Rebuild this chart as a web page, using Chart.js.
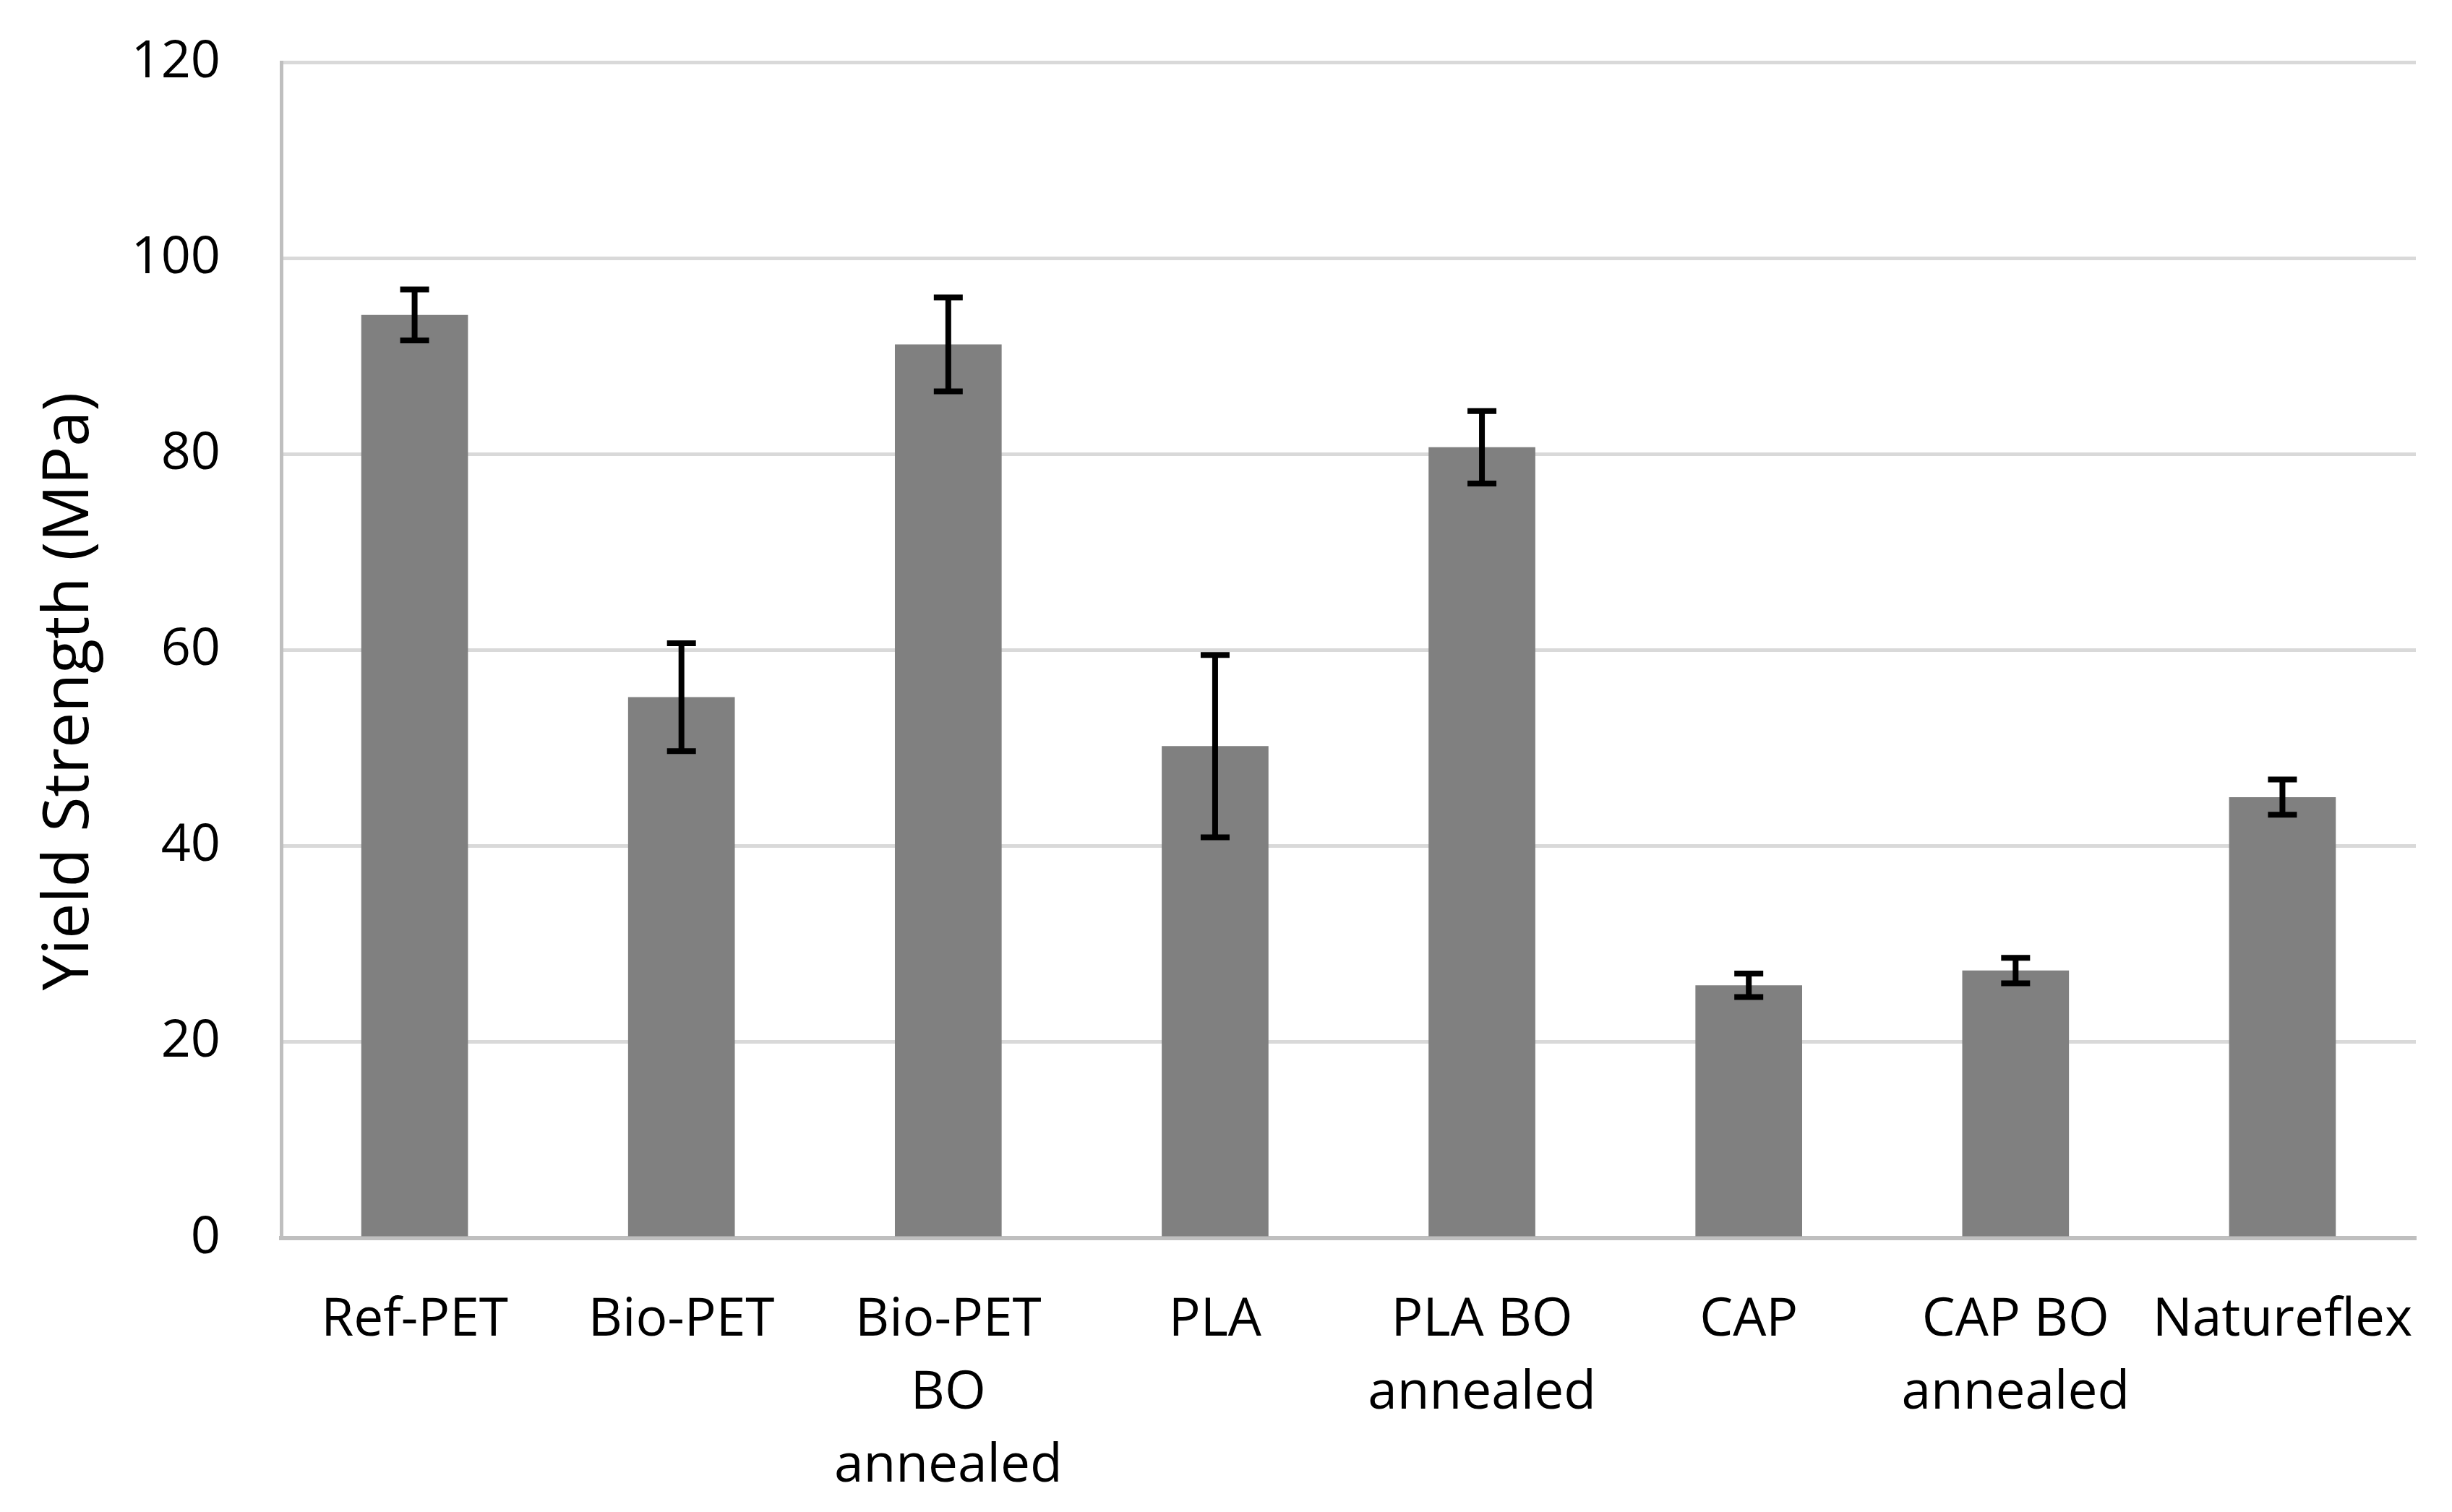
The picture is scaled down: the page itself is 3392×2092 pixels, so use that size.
<!DOCTYPE html>
<html>
<head>
<meta charset="utf-8">
<script src="https://cdn.jsdelivr.net/npm/chart.js@4"></script>
<style>
  body { margin: 0; background: #ffffff; }
  canvas { display: block; }
</style>
</head>
<body>
<canvas id="chart" width="3392" height="2092"></canvas>
<script>
const categories = [
  "Ref-PET",
  "Bio-PET",
  ["Bio-PET", "BO", "annealed"],
  "PLA",
  ["PLA BO", "annealed"],
  "CAP",
  ["CAP BO", "annealed"],
  "Natureflex"
];
const yieldStrength = [94.2, 55.2, 91.2, 50.2, 80.7, 25.8, 27.3, 45.0];
const yieldError = [2.6, 5.5, 4.8, 9.3, 3.7, 1.2, 1.3, 1.8];
const yTicks = [0, 20, 40, 60, 80, 100, 120];

const fontFamily = "'Open Sans', 'Noto Sans', sans-serif";

// error bars drawn from the y scale
const errorBars = {
  id: "errorBars",
  afterDatasetsDraw(chart) {
    const { ctx, scales: { y } } = chart;
    const meta = chart.getDatasetMeta(0);
    ctx.save();
    ctx.strokeStyle = "#000000";
    ctx.lineWidth = 8;
    meta.data.forEach((bar, i) => {
      const top = y.getPixelForValue(yieldStrength[i] + yieldError[i]);
      const bottom = y.getPixelForValue(yieldStrength[i] - yieldError[i]);
      const half = 20;
      ctx.beginPath();
      ctx.moveTo(bar.x, top);
      ctx.lineTo(bar.x, bottom);
      ctx.moveTo(bar.x - half, top);
      ctx.lineTo(bar.x + half, top);
      ctx.moveTo(bar.x - half, bottom);
      ctx.lineTo(bar.x + half, bottom);
      ctx.stroke();
    });
    ctx.restore();
  }
};

const canvas = document.getElementById("chart");
new Chart(canvas, {
  type: "bar",
  data: {
    labels: categories,
    datasets: [{
      data: yieldStrength,
      backgroundColor: "#808080",
      barPercentage: 0.4,
      categoryPercentage: 1.0
    }]
  },
  options: {
    responsive: false,
    animation: false,
    devicePixelRatio: 1,
    layout: { padding: { top: 86, right: 50, left: 0, bottom: 0 } },
    plugins: {
      legend: { display: false },
      tooltip: { enabled: false }
    },
    scales: {
      x: {
        grid: { display: false, drawTicks: false },
        border: { color: "#bfbfbf", width: 6 },
        ticks: {
          color: "#000000",
          font: { family: fontFamily, size: 73, lineHeight: 1.38 },
          padding: 64,
          maxRotation: 0,
          autoSkip: false
        },
        afterFit(scale) {
          scale.height = 379;
          scale.paddingLeft = 0;
          scale.paddingRight = 0;
        }
      },
      y: {
        min: 0,
        max: 120,
        afterBuildTicks(scale) { scale.ticks = yTicks.map(v => ({ value: v })); },
        grid: { color: "#d9d9d9", lineWidth: 5, drawTicks: false },
        border: { color: "#bfbfbf", width: 5 },
        ticks: {
          color: "#000000",
          font: { family: fontFamily, size: 72 },
          padding: 84
        },
        title: {
          display: true,
          text: "Yield Strength (MPa)\u00a0\u00a0\u00a0\u00a0\u00a0",
          color: "#000000",
          font: { family: fontFamily, size: 88, lineHeight: 1.2 },
          padding: { top: 44, bottom: 0 }
        },
        afterFit(scale) {
          scale.width = 389;
          scale.paddingTop = 0;
          scale.paddingBottom = 0;
        }
      }
    }
  },
  plugins: [errorBars]
});
</script>
</body>
</html>
